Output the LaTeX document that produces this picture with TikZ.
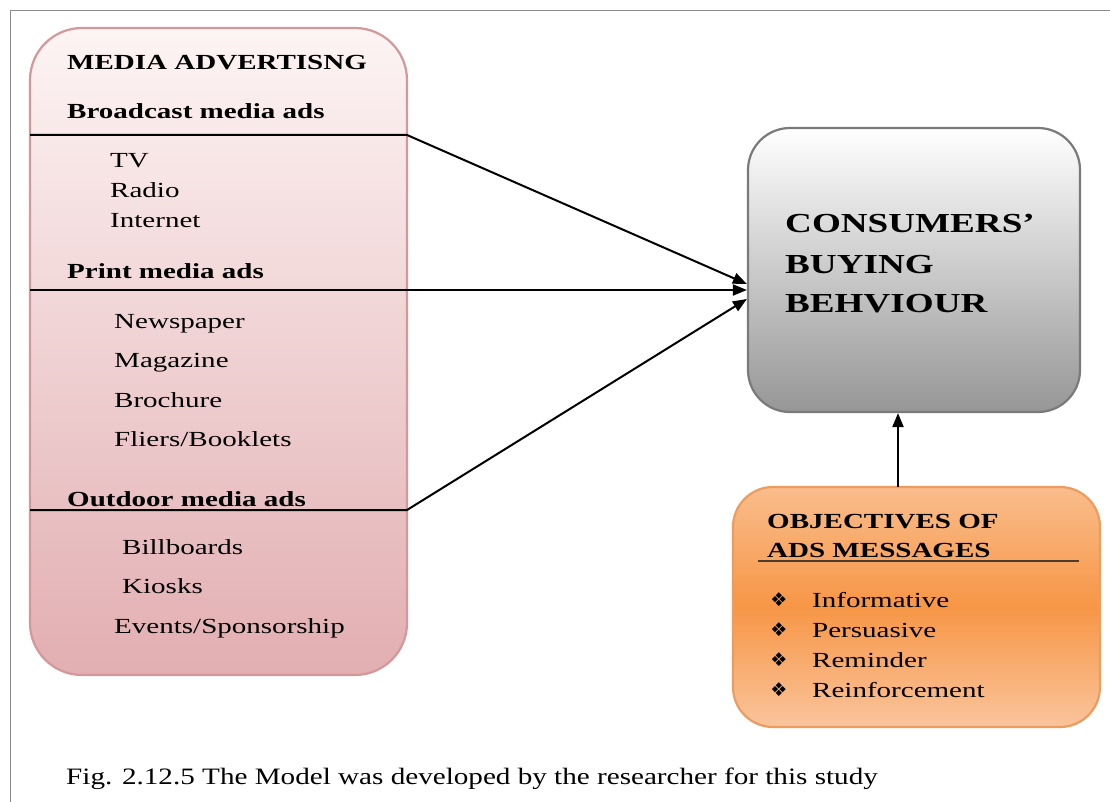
\documentclass[tikz,border=0pt]{standalone}
\usepackage{fontspec}
\setmainfont{Liberation Serif}
\newfontfamily\widefont[FakeStretch=1.35]{Liberation Serif}
\newfontfamily\capfont[FakeStretch=1.24]{Liberation Serif}
\newfontfamily\dingfont{DejaVu Sans}
\usetikzlibrary{arrows.meta}

\definecolor{framecol}{HTML}{8C8C8C}
\definecolor{lefttop}{HTML}{FDF4F4}
\definecolor{leftbot}{HTML}{E2AEB1}
\definecolor{leftedge}{HTML}{D4979A}
\definecolor{graytop}{HTML}{FFFFFF}
\definecolor{graybot}{HTML}{969696}
\definecolor{grayedge}{HTML}{7A7A7A}
\definecolor{orgtop}{HTML}{F9BD8C}
\definecolor{orgmid}{HTML}{F79646}
\definecolor{orgbot}{HTML}{FAC49C}
\definecolor{orgedge}{HTML}{EC9C5E}
\definecolor{rulecol}{HTML}{4D3B2E}

\begin{document}
\begin{tikzpicture}[x=1pt,y=-1pt,
  txt/.style={anchor=base west, inner sep=0pt, text=black,
    font=\widefont\fontsize{21.5}{25}\selectfont},
  head/.style={txt, font=\widefont\fontsize{21.5}{25}\selectfont\bfseries},
  bigtxt/.style={txt, font=\widefont\fontsize{27.5}{30}\selectfont\bfseries},
  bullet/.style={anchor=center, inner sep=0pt, font=\dingfont\fontsize{19}{19}\selectfont},
  link/.style={line width=2pt, black},
  arr/.style={link, -{Triangle[length=14pt,width=11pt]}},
  panel/.style={line width=2.2pt, inner sep=0pt}
]
\useasboundingbox (0,0) rectangle (1110,802);
\fill[white] (0,0) rectangle (1110,802);

% page frame
\draw[framecol, line width=1pt] (10,802) -- (10,11) -- (1110,11);

% boxes
\node[panel, draw=leftedge, rounded corners=52pt, top color=lefttop, bottom color=leftbot,
  minimum width=377pt, minimum height=647pt] (media) at (218.5,351.5) {};
\node[panel, draw=grayedge, rounded corners=42pt, top color=graytop, bottom color=graybot,
  minimum width=332pt, minimum height=284pt] (cb) at (914,270) {};
\node[panel, draw=orgedge, rounded corners=40pt, top color=orgtop, bottom color=orgbot, middle color=orgmid,
  minimum width=367pt, minimum height=240pt] (ob) at (916.5,607) {};

% section rules and connectors
\coordinate (bcA) at (30,135);
\coordinate (bcB) at (407,135);
\coordinate (prA) at (30,290);
\coordinate (odA) at (30,510);
\coordinate (odB) at (407,510);
\draw[arr] (bcA) -- (bcB) -- ([yshift=-14pt]cb.west);
\draw[arr] (prA) -- ([yshift=-20pt]cb.west);
\draw[arr] (odA) -- (odB) -- ([yshift=-29pt]cb.west);

\coordinate (up) at (898,487);
\draw[arr] (up) -- (up |- cb.south);

% media advertising texts
\node[head] (mt) at (67,70) {MEDIA ADVERTISNG};
\node[head] (bh) at (67,119) {Broadcast media ads};
\node[txt] (tv) at (110,168) {TV};
\node[txt] (radio) at (110,198) {Radio};
\node[txt] (inet) at (110,228) {Internet};
\node[head] (ph) at (67,278) {Print media ads};
\node[txt] (news) at (114,328) {Newspaper};
\node[txt] (mag) at (114,367) {Magazine};
\node[txt] (broc) at (114,407) {Brochure};
\node[txt] (fli) at (114,446) {Fliers/Booklets};
\node[head] (oh) at (67,506) {Outdoor media ads};
\node[txt] (bill) at (122,554) {Billboards};
\node[txt] (kio) at (122,593) {Kiosks};
\node[txt] (ev) at (114,633) {Events/Sponsorship};

% consumers box text
\node[bigtxt] (c1) at (785,233) {CONSUMERS’};
\node[bigtxt] (c2) at (785,273) {BUYING};
\node[bigtxt] (c3) at (785,312) {BEHVIOUR};

% objectives box text
\node[head] (o1) at (767,528) {OBJECTIVES OF};
\node[head] (o2) at (767,557) {ADS MESSAGES};
\draw[rulecol, line width=1.8pt] (758,561) -- (1079,561);
\foreach \y/\t [count=\i] in {607/Informative, 637/Persuasive, 667/Reminder, 697/Reinforcement}{
  \node[bullet] (b\i) at (779,\y-7) {❖};
  \node[txt] (it\i) at (812,\y) {\t};
}

% caption
\node[anchor=base west, inner sep=0pt, font=\capfont\fontsize{23.5}{27}\selectfont] (cap) at (66,784)
  {Fig. 2.12.5 The Model was developed by the researcher for this study};
\end{tikzpicture}
\end{document}
